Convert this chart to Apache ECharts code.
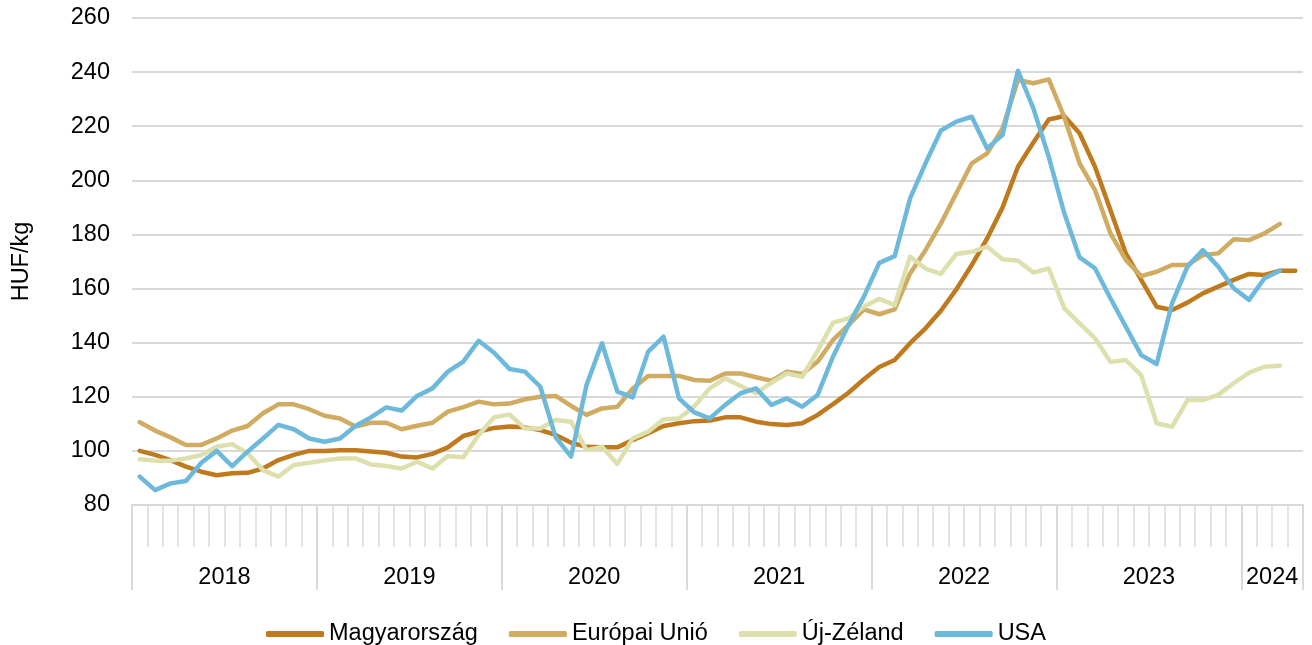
<!DOCTYPE html>
<html>
<head>
<meta charset="utf-8">
<script src="https://cdn.jsdelivr.net/npm/echarts@6/dist/echarts.min.js"></script>
<style>
  html, body { margin: 0; padding: 0; background: #fff; }
  #chart { width: 1312px; height: 645px; }
</style>
</head>
<body>
<div id="chart"></div>
<script>
// évek és hónapok száma évenként
const years = ['2018', '2019', '2020', '2021', '2022', '2023', '2024'];
const monthsPerYear = [12, 12, 12, 12, 12, 12, 4];

const seriesNames = ['Magyarország', 'Európai Unió', 'Új-Zéland', 'USA'];

const magyarorszag = [
  100, 98.5, 96.6, 94.2, 92.3, 91, 91.7, 91.9, 93.5, 96.6, 98.5, 100,
  100, 100.2, 100.2, 99.8, 99.3, 97.9, 97.6, 98.9, 101.3, 105.5, 107.1, 108.5,
  109, 108.7, 107.7, 105.9, 103, 101.5, 101.3, 101.3, 104, 106.5, 109.2, 110.2,
  111, 111.2, 112.4, 112.4, 110.8, 109.9, 109.6, 110.2, 113.3, 117.3, 121.5, 126.5,
  131, 133.6, 139.8, 145.3, 151.8, 159.7, 168.7, 178.5, 190, 205, 214, 222.5,
  223.8, 217.4, 205, 189, 173, 163.2, 153.3, 152.1, 154.8, 158.2, 160.7, 163.2,
  165.4, 165, 166.6, 166.6
];
const europaiUnio = [
  110.6, 107.5, 105, 102.2, 102.2, 104.6, 107.5, 109.2, 113.9, 117.2, 117.2, 115.4,
  113, 112, 109, 110.4, 110.4, 108, 109.3, 110.4, 114.5, 116.2, 118.2, 117.2,
  117.5, 119.1, 120, 120.3, 116.6, 113.3, 115.7, 116.3, 123.1, 127.7, 127.7, 127.7,
  126.2, 125.9, 128.6, 128.6, 127.2, 125.9, 129.3, 128.4, 133, 141, 146.5, 152.3,
  150.5, 152.3, 165.6, 174.2, 184.1, 195.2, 206.3, 210, 219.2, 237.1, 235.9, 237.3,
  223.5, 206.3, 196.4, 180.4, 170.6, 164.6, 166.2, 168.7, 168.7, 172.4, 173, 178.2,
  177.9, 180.4, 183.9
];
const ujZeland = [
  96.9, 96.4, 96.4, 97.2, 98.5, 101.5, 102.5, 99.1, 92.9, 90.5, 94.8, 95.6,
  96.5, 97.2, 97.2, 95, 94.4, 93.5, 96, 93.5, 98.1, 97.6, 105.9, 112.4,
  113.5, 108.3, 108.3, 111.4, 110.8, 100.3, 101.5, 95.2, 104.6, 107.1, 111.7, 112,
  116.5, 123.1, 126.8, 124, 121.3, 125.2, 128.6, 127.4, 137, 147.4, 149, 153.3,
  156.2, 153.9, 171.8, 167.4, 165.4, 172.8, 173.6, 175.5, 170.8, 170.3, 165.9, 167.4,
  152.8, 147.1, 141.6, 132.9, 133.6, 128, 110.2, 108.9, 118.8, 118.8, 120.7, 125,
  128.9, 131.1, 131.5
];
const usa = [
  90.5, 85.5, 88, 88.9, 95.6, 100, 94.4, 99.7, 104.6, 109.6, 108, 104.6,
  103.4, 104.6, 109.2, 112.4, 116.1, 114.9, 120.3, 123.1, 129.3, 133, 140.7, 136.3,
  130.3, 129.3, 123.7, 105, 97.9, 124.4, 139.8, 121.9, 119.8, 136.7, 142.2, 119.4,
  114.2, 112, 117, 121.3, 123.1, 117, 119.4, 116.3, 120.7, 134.9, 146.5, 157,
  169.5, 172, 193.3, 206.3, 218.4, 221.7, 223.5, 211.8, 216.8, 240.5, 226.6, 208.7,
  188, 171.5, 167.5, 156.4, 145.9, 135.4, 132.1, 154.5, 168.1, 174.2, 168.1, 160.1,
  155.8, 163.8, 166.6
];

const colors = ['#C07A1E', '#D0AB62', '#DDE0AD', '#6DB9DC'];
const font = "'Liberation Sans', Arial, sans-serif";
const gridColor = '#d9d9d9';

// hónap-kategóriák és év-határok
const months = [];
const yearBounds = [0];
const yearCenters = [];
let pos = 0;
years.forEach((y, k) => {
  for (let m = 1; m <= monthsPerYear[k]; m++) {
    months.push(y + '-' + String(m).padStart(2, '0'));
  }
  yearCenters.push(pos + monthsPerYear[k] / 2);
  pos += monthsPerYear[k];
  yearBounds.push(pos);
});

const chart = echarts.init(document.getElementById('chart'));
const allData = [magyarorszag, europaiUnio, ujZeland, usa];

chart.setOption({
  animation: false,
  color: colors,
  textStyle: { fontFamily: font },
  grid: { left: 132, right: 9, top: 18, bottom: 140 },
  legend: {
    left: 'center',
    top: 616,
    icon: 'roundRect',
    itemWidth: 58,
    itemHeight: 6,
    itemGap: 31,
    textStyle: { fontSize: 23.5, color: '#000', fontFamily: font, lineHeight: 26 },
    data: seriesNames
  },
  xAxis: [
    {
      type: 'category',
      data: months,
      boundaryGap: true,
      position: 'bottom',
      axisLine: { show: true, lineStyle: { color: gridColor, width: 2 } },
      axisTick: { show: true, interval: 0, length: 42, lineStyle: { color: gridColor, width: 1.5 } },
      axisLabel: { show: false },
      splitLine: { show: false }
    },
    {
      type: 'value',
      min: 0,
      max: pos,
      position: 'bottom',
      axisLine: { show: false },
      splitLine: { show: false },
      axisTick: {
        show: true,
        customValues: yearBounds,
        length: 85,
        lineStyle: { color: gridColor, width: 2 }
      },
      axisLabel: {
        show: true,
        customValues: yearCenters,
        margin: 61,
        fontSize: 23.5,
        color: '#000',
        fontFamily: font,
        formatter: function (v) {
          const k = yearCenters.indexOf(v);
          return k >= 0 ? years[k] : '';
        }
      }
    }
  ],
  yAxis: {
    type: 'value',
    min: 80,
    max: 260,
    interval: 20,
    name: 'HUF/kg',
    nameLocation: 'middle',
    nameGap: 98,
    nameTextStyle: { fontSize: 23.5, color: '#000', fontFamily: font },
    axisLine: { show: false },
    axisTick: { show: false },
    axisLabel: { fontSize: 23.5, color: '#000', margin: 22, fontFamily: font },
    splitLine: { lineStyle: { color: gridColor, width: 2 } }
  },
  series: seriesNames.map((name, k) => ({
    name: name,
    type: 'line',
    xAxisIndex: 0,
    data: allData[k],
    showSymbol: false,
    symbol: 'none',
    smooth: false,
    lineStyle: { width: 4.5, color: colors[k], cap: 'round', join: 'round' },
    itemStyle: { color: colors[k] }
  }))
});
</script>
</body>
</html>
